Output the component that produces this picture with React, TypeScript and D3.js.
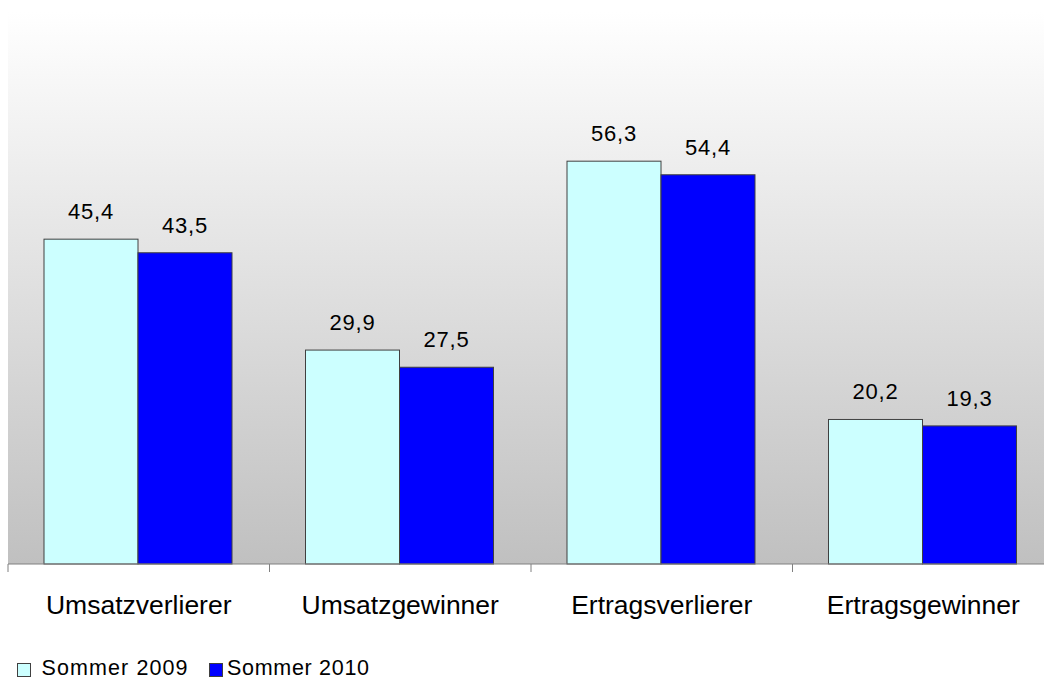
import * as d3 from "d3";
import React from "react";

const categories = ["Umsatzverlierer", "Umsatzgewinner", "Ertragsverlierer", "Ertragsgewinner"];
const seriesNames = ["Sommer 2009", "Sommer 2010"];
const sommer2009 = [45.4, 29.9, 56.3, 20.2];
const sommer2010 = [43.5, 27.5, 54.4, 19.3];
const seriesColors = ["#ccffff", "#0000ff"];

const W = 1044;
const H = 680;
const plot = { left: 8, right: 1054, top: 12, bottom: 564 };

const fmt = (v: number) => v.toFixed(1).replace(".", ",");

export default function App() {
  const x = d3.scaleBand<string>().domain(categories).range([plot.left, plot.right]);
  const inner = d3
    .scaleBand<string>()
    .domain(seriesNames)
    .range([36, 36 + 188]);
  const y = d3.scaleLinear().domain([0, 77.15]).range([plot.bottom, plot.top]);

  const values = [sommer2009, sommer2010];
  const ticks = [...categories.map((c) => x(c)!), plot.right];
  // legend squares + text start
  const legend = [
    { sq: 17.5, tx: 41.5, spacing: 1.1 },
    { sq: 209.5, tx: 227, spacing: 0.7 },
  ];

  return (
    <svg
      width={W}
      height={H}
      style={{ position: "absolute", left: 0, top: 0, fontFamily: "'Liberation Sans', Arial, sans-serif" }}
    >
      <defs>
        <linearGradient id="bg" x1="0" y1="0" x2="0" y2="1">
          <stop offset="0%" stopColor="#ffffff" />
          <stop offset="100%" stopColor="#c0c0c0" />
        </linearGradient>
      </defs>
      <rect x={0} y={0} width={W} height={H} fill="#ffffff" />
      <rect
        x={plot.left}
        y={plot.top}
        width={plot.right - plot.left}
        height={plot.bottom - plot.top}
        fill="url(#bg)"
      />

      {categories.map((c, i) => (
        <g key={c} transform={`translate(${x(c)},0)`}>
          {seriesNames.map((s, j) => {
            const v = values[j][i];
            const bx = inner(s)!;
            return (
              <g key={s}>
                <rect
                  x={bx}
                  y={y(v)}
                  width={inner.bandwidth()}
                  height={plot.bottom - y(v)}
                  fill={seriesColors[j]}
                  stroke="#404040"
                  strokeWidth={1}
                />
                <text
                  x={bx + inner.bandwidth() / 2}
                  y={y(v) - 20}
                  textAnchor="middle"
                  fontSize={22}
                  letterSpacing={0.8}
                  fill="#000"
                >
                  {fmt(v)}
                </text>
              </g>
            );
          })}
          <text
            x={x.bandwidth() / 2}
            y={614}
            textAnchor="middle"
            fontSize={26.5}
            fill="#000"
          >
            {c}
          </text>
        </g>
      ))}

      <line x1={plot.left} x2={plot.right} y1={plot.bottom} y2={plot.bottom} stroke="#808080" strokeWidth={1} />
      {ticks.map((t, i) => (
        <line key={i} x1={t} x2={t} y1={plot.bottom} y2={plot.bottom + 8} stroke="#808080" strokeWidth={1} />
      ))}

      {seriesNames.map((s, j) => (
        <g key={s}>
          <rect x={legend[j].sq} y={663.5} width={13} height={13} fill={seriesColors[j]} stroke="#404040" />
          <text x={legend[j].tx} y={675} fontSize={21.5} letterSpacing={legend[j].spacing} fill="#000">
            {s}
          </text>
        </g>
      ))}
    </svg>
  );
}
